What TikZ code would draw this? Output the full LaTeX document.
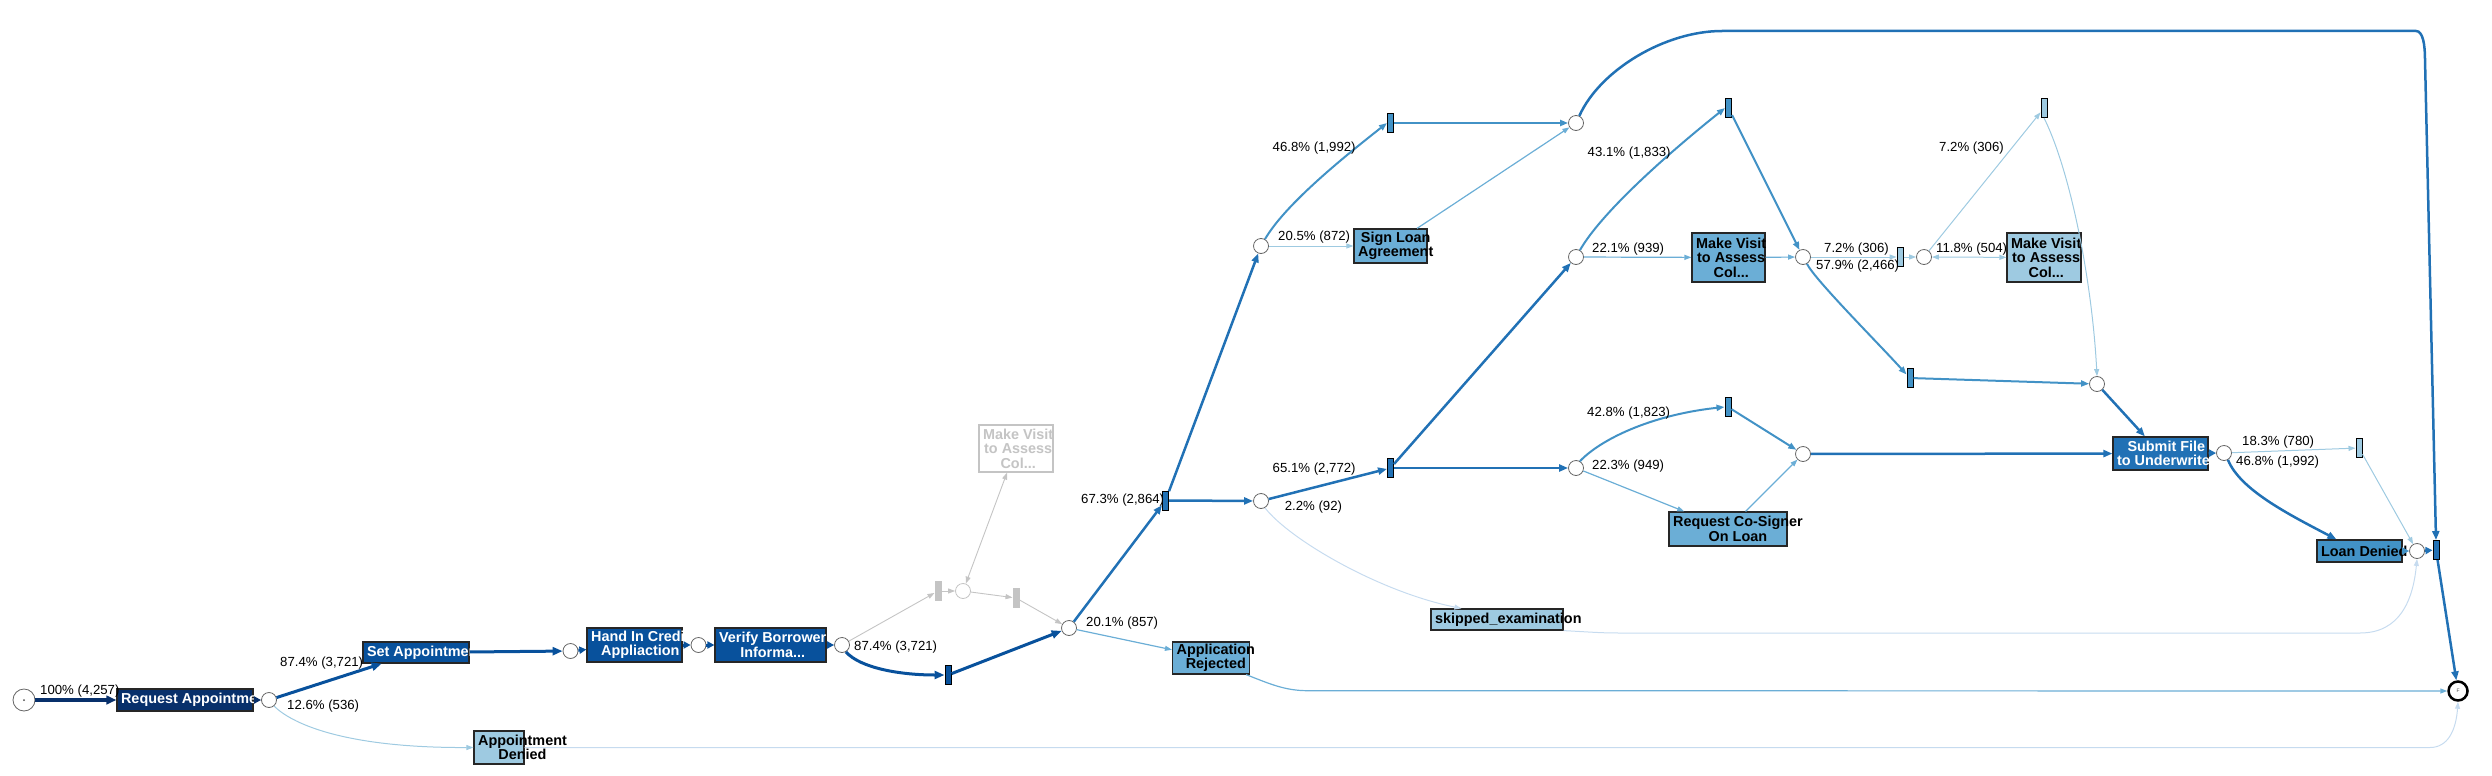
\documentclass[tikz,border=0pt]{standalone}
\usepackage{fontspec}
\setmainfont{Liberation Sans}
\usetikzlibrary{arrows.meta}
\definecolor{c0}{HTML}{08306B}
\definecolor{c1}{HTML}{08519C}
\definecolor{c2}{HTML}{2171B5}
\definecolor{c3}{HTML}{4292C6}
\definecolor{c4}{HTML}{6BAED6}
\definecolor{c5}{HTML}{9ECAE1}
\definecolor{c6}{HTML}{C6DBEF}
\definecolor{gr}{HTML}{C4C4C4}
\begin{document}
\begin{tikzpicture}[x=1pt,y=-1pt,
  act/.style={rectangle, draw=black!85, line width=1.2pt, inner sep=0pt},
  btxt/.style={anchor=west, xshift=4.5pt, inner sep=0pt, align=center, font=\fontsize{14.4}{14.5}\selectfont\bfseries},
  lbl/.style={anchor=west, inner sep=0pt, font=\fontsize{13.2}{15}\selectfont},
  place/.style={circle, draw=black!60, line width=0.8pt, fill=white, minimum size=15pt, inner sep=0pt},
  trans/.style={rectangle, draw=black, line width=1pt, minimum width=6pt, minimum height=19pt, inner sep=0pt},
  e0/.style={draw=c0, line width=3.2pt, -{Triangle[length=10pt,width=8.5pt]}},
  e1/.style={draw=c1, line width=3pt, -{Triangle[length=10pt,width=8pt]}},
  e2/.style={draw=c2, line width=2.5pt, -{Triangle[length=9pt,width=7pt]}},
  e3/.style={draw=c3, line width=2pt, -{Triangle[length=8pt,width=6pt]}},
  e4/.style={draw=c4, line width=1.2pt, -{Triangle[length=7pt,width=5pt]}},
  e5/.style={draw=c5, line width=1pt, -{Triangle[length=7pt,width=5pt]}},
  e6/.style={draw=c6, line width=1pt, -{Triangle[length=7pt,width=5pt]}},
  eg/.style={draw=gr, line width=0.9pt, -{Triangle[length=7pt,width=5pt]}},
  both/.style={{Triangle[length=7pt,width=5pt]}-{Triangle[length=7pt,width=5pt]}},
  sh/.style={-{Triangle[length=7pt,width=7pt]}}
]
\useasboundingbox (0,0) rectangle (2492,776);

% activity boxes
\node[act, fill=c0, minimum width=136pt, minimum height=22pt] (req) at (185,700) {};
\node[btxt, text=white] (reqT) at (req.west) {Request Appointment};
\node[act, fill=c1, minimum width=106pt, minimum height=21pt] (setb) at (416,652.5) {};
\node[btxt, text=white] (setT) at (setb.west) {Set Appointment};
\node[act, fill=c1, minimum width=95pt, minimum height=34pt] (hand) at (634.5,645) {};
\node[btxt, text=white] (handT) at (hand.west) {Hand In Credit\\Appliaction};
\node[act, fill=c1, minimum width=111pt, minimum height=34pt] (verify) at (770.5,645) {};
\node[btxt, text=white] (verifyT) at (verify.west) {Verify Borrower\\Informa...};
\node[act, fill=c5, minimum width=50pt, minimum height=33pt] (adenied) at (499,747.5) {};
\node[btxt] (adeniedT) at (adenied.west) {Appointment\\Denied};
\node[act, draw=gr, fill=white, minimum width=74pt, minimum height=47pt] (gbox) at (1016,448.5) {};
\node[btxt, text=gr] (gboxT) at (gbox.west) {Make Visit\\to Assess\\Col...};
\node[act, fill=c4, minimum width=77pt, minimum height=32pt] (arej) at (1211,658) {};
\node[btxt] (arejT) at (arej.west) {Application\\Rejected};
\node[act, fill=c4, minimum width=73pt, minimum height=34pt] (sign) at (1390.5,246) {};
\node[btxt] (signT) at (sign.west) {Sign Loan\\Agreement};
\node[act, fill=c5, minimum width=132pt, minimum height=21pt] (skip) at (1497,619.5) {};
\node[btxt] (skipT) at (skip.west) {skipped\_examination};
\node[act, fill=c4, minimum width=73pt, minimum height=49pt] (mv1) at (1728.5,257.5) {};
\node[btxt] (mv1T) at (mv1.west) {Make Visit\\to Assess\\Col...};
\node[act, fill=c4, minimum width=118pt, minimum height=34pt] (cos) at (1728,529) {};
\node[btxt] (cosT) at (cos.west) {Request Co-Signer\\On Loan};
\node[act, fill=c5, minimum width=74pt, minimum height=49pt] (mv2) at (2044,257.5) {};
\node[btxt] (mv2T) at (mv2.west) {Make Visit\\to Assess\\Col...};
\node[act, fill=c2, minimum width=95pt, minimum height=33pt] (submit) at (2160.5,453.5) {};
\node[btxt, text=white] (submitT) at (submit.west) {Submit File\\to Underwriter};
\node[act, fill=c3, minimum width=85pt, minimum height=22pt] (ldenied) at (2359.5,551) {};
\node[btxt] (ldeniedT) at (ldenied.west) {Loan Denied};

% places
\node[place, minimum size=22pt] (start) at (24,700) {};
\fill[black!70] (start.center) circle (1pt);
\node[place] (p1) at (269,700) {};
\node[place] (p2) at (570.5,651) {};
\node[place] (p3) at (698.5,645) {};
\node[place] (p4) at (842,645) {};
\node[place, draw=gr] (gp) at (963,591) {};
\node[place] (p5) at (1069,628) {};
\node[place] (p6) at (1261,501) {};
\node[place] (p7) at (1261,246) {};
\node[place] (p8) at (1576,123) {};
\node[place] (p13) at (1576,257) {};
\node[place] (p9) at (1576,468) {};
\node[place] (p14) at (1803,257) {};
\node[place] (p15) at (1924,257) {};
\node[place] (p10) at (1803,454) {};
\node[place] (p16) at (2097,384) {};
\node[place] (p11) at (2224,453) {};
\node[place] (p12) at (2417,551) {};
\node[place, draw=black, line width=2.5pt, minimum size=19pt] (final) at (2458,691) {};
\node[inner sep=0pt, font=\fontsize{5}{5}\selectfont, text=black!70] (finalT) at (final) {F};

% transitions
\node[trans, fill=c1] (t1) at (948,675) {};
\node[trans, fill=gr, draw=gr] (tg1) at (938,591) {};
\node[trans, fill=gr, draw=gr] (tg2) at (1016,598) {};
\node[trans, fill=c2] (t2) at (1165.5,500.5) {};
\node[trans, fill=c3] (t3) at (1390.5,123) {};
\node[trans, fill=c2] (t4) at (1390.5,468) {};
\node[trans, fill=c3] (t5) at (1728,407) {};
\node[trans, fill=c3] (t8) at (1728.5,108) {};
\node[trans, fill=c5] (t9) at (1900,257) {};
\node[trans, fill=c5] (t10) at (2044,108) {};
\node[trans, fill=c3] (t11) at (1910,378) {};
\node[trans, fill=c5] (t6) at (2359,448) {};
\node[trans, fill=c2] (t7) at (2436,550) {};

% edges
\draw[e0] (start) -- (req);
\draw[e0, sh] (req) -- (p1);
\draw[e1] (p1) -- (setb);
\draw[e5] (p1.-50) .. controls (290,722) and (340,748) .. (adenied.west);
\draw[e1] (setb) -- (p2);
\draw[e1, sh] (p2) -- (hand);
\draw[e1, sh] (hand) -- (p3);
\draw[e1, sh] (p3) -- (verify);
\draw[e1, sh] (verify) -- (p4);
\draw[e1] (p4.-60) .. controls (860,668) and (900,675) .. (t1.west);
\draw[e1] (t1) -- (p5);
\draw[eg] (p4) -- (tg1);
\draw[eg] (tg1) -- (gp);
\draw[eg, both] (gbox) -- (gp);
\draw[eg] (gp) -- (tg2);
\draw[eg] (tg2) -- (p5);
\draw[e2] (p5) -- (t2);
\draw[e4] (p5) -- (arej);
\draw[e2] (t2) -- (p6);
\draw[e2] (t2) -- (p7);
\draw[e3] (p7.60) .. controls (1285,205) and (1340,160) .. (t3.west);
\draw[e5] (p7) -- (sign);
\draw[e3] (t3) -- (p8);
\draw[e4] (sign) -- (p8);
\draw[e2] (p8.65) .. controls (1600,70) and (1665,31) .. (1722,31) -- (2416,31) .. controls (2423,31) and (2425,45) .. (2425,60) -- (t7.north);
\draw[e2] (p6) -- (t4);
\draw[e6] (p6.-60) .. controls (1290,540) and (1380,592) .. ([xshift=31pt]skip.north west);
\draw[e2] (t4) -- (p9);
\draw[e2] (t4) -- (p13);
\draw[e3] (p13.60) .. controls (1600,215) and (1660,160) .. (t8.west);
\draw[e4] (p13) -- (mv1);
\draw[e4] (mv1) -- (p14);
\draw[e3] (t8) -- (p14);
\draw[e5] (p14) -- (t9);
\draw[e5] (t9) -- (p15);
\draw[e5] (p15) -- (t10);
\draw[e5, both] (p15) -- (mv2);
\draw[e5] (t10.south) .. controls (2070,170) and (2092,280) .. (p16.north);
\draw[e3] (p14.-60) .. controls (1815,280) and (1880,345) .. (t11.135);
\draw[e3] (t11) -- (p16);
\draw[e2] (p16) -- (submit);
\draw[e3] (p9.60) .. controls (1600,440) and (1650,415) .. (t5.west);
\draw[e4] (p9) -- (cos);
\draw[e3] (t5) -- (p10);
\draw[e4] (cos) -- (p10);
\draw[e2] (p10) -- (submit);
\draw[e2, sh] (submit) -- (p11);
\draw[e5] (p11) -- (t6);
\draw[e2] (p11.-60) .. controls (2240,490) and (2290,515) .. ([xshift=20pt]ldenied.north west);
\draw[e5] (t6) -- (p12);
\draw[e3, sh] (ldenied) -- (p12);
\draw[e6] (skip.south east) .. controls (1590,632) and (1600,633) .. (1620,633) -- (2360,633) .. controls (2400,633) and (2413,600) .. (p12.south);
\draw[e2, sh] (p12) -- (t7);
\draw[e2] (t7) -- (final);
\draw[e4] ([xshift=-4pt]arej.south east) .. controls (1270,684) and (1285,690.7) .. (1308,690.7) -- (final.west);
\draw[e6] (adenied.east) -- (2430,747.5) .. controls (2448,747.5) and (2456,730) .. (final.south);

% edge labels
\node[lbl] (l1) at (40,691) {100\% (4,257)};
\node[lbl] (l2) at (280,663) {87.4\% (3,721)};
\node[lbl] (l3) at (287,706) {12.6\% (536)};
\node[lbl] (l4) at (854,647) {87.4\% (3,721)};
\node[lbl] (l5) at (1086,623) {20.1\% (857)};
\node[lbl] (l6) at (1081,500) {67.3\% (2,864)};
\node[lbl] (l7) at (1272.5,148) {46.8\% (1,992)};
\node[lbl] (l8) at (1278,237) {20.5\% (872)};
\node[lbl] (l9) at (1272.5,469) {65.1\% (2,772)};
\node[lbl] (l10) at (1284.6,507) {2.2\% (92)};
\node[lbl] (l11) at (1587.5,153) {43.1\% (1,833)};
\node[lbl] (l12) at (1592,249) {22.1\% (939)};
\node[lbl] (l13) at (1587,413) {42.8\% (1,823)};
\node[lbl] (l14) at (1592,466) {22.3\% (949)};
\node[lbl] (l15) at (1824,249) {7.2\% (306)};
\node[lbl] (l16) at (1816,266) {57.9\% (2,466)};
\node[lbl] (l17) at (1936,249) {11.8\% (504)};
\node[lbl] (l18) at (1939,148) {7.2\% (306)};
\node[lbl] (l19) at (2242,442) {18.3\% (780)};
\node[lbl] (l20) at (2236,462) {46.8\% (1,992)};
\end{tikzpicture}
\end{document}
